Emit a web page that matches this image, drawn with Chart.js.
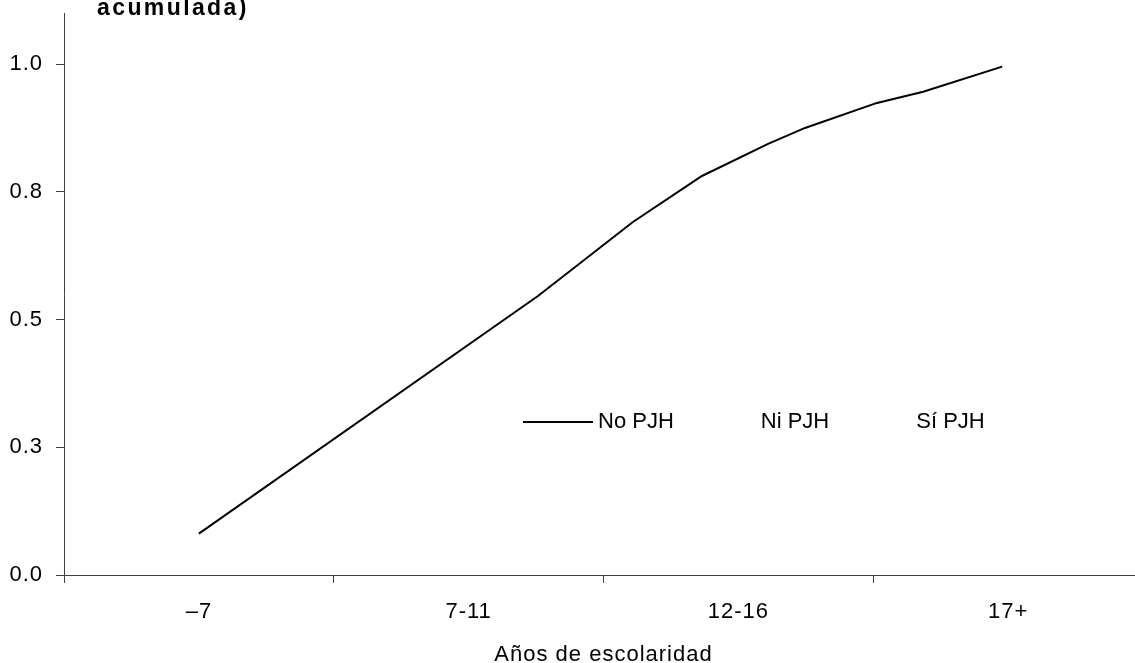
<!DOCTYPE html>
<html>
<head>
<meta charset="utf-8">
<script src="https://cdn.jsdelivr.net/npm/chart.js@4/dist/chart.umd.min.js"></script>
<style>
  html, body { margin: 0; padding: 0; background: #fff; overflow: hidden; }
  canvas { display: block; }
</style>
</head>
<body>
<canvas id="chart" width="1143" height="663"></canvas>
<script>
// categorías del eje x y valores
const categories = ['–7', '7-11', '12-16', '17+'];
const yTicks = [0, 0.25, 0.5, 0.75, 1.0];
const seriesNames = ['No PJH', 'Ni PJH', 'Sí PJH'];
// posición x en unidades de categoría (0 = "–7"), proporción acumulada
const noPjhX = [0, 1.257, 1.609, 1.865, 2.11, 2.247, 2.514, 2.685, 2.978];
const noPjhY = [0.081, 0.546, 0.691, 0.781, 0.844, 0.875, 0.924, 0.946, 0.995];
const niPjhY = [];
const siPjhY = [];
const axisTitle = 'Años de escolaridad';
const chartTitle = 'acumulada)';

const FONT = '"Liberation Sans", Arial, sans-serif';
const AXIS = '#404040';

// leyenda y título dibujados dentro del área del gráfico
const overlayPlugin = {
    id: 'overlay',
    beforeDraw(chart) {
        chart.ctx.letterSpacing = '1px';
    },
    afterDraw(chart) {
        const ctx = chart.ctx;
        const area = chart.chartArea;
        ctx.save();
        ctx.fillStyle = '#000';
        ctx.font = 'bold 23px ' + FONT;
        ctx.textBaseline = 'alphabetic';
        ctx.letterSpacing = '2.4px';
        ctx.fillText(chartTitle, 97, 15);
        ctx.letterSpacing = '0px';

        ctx.font = '22px ' + FONT;
        ctx.textBaseline = 'middle';
        let x = area.left + 459;
        const y = area.top + 409;
        chart.data.datasets.forEach(ds => {
            ctx.strokeStyle = ds.borderColor;
            ctx.lineWidth = ds.borderWidth;
            ctx.beginPath();
            ctx.moveTo(x, y);
            ctx.lineTo(x + 70, y);
            ctx.stroke();
            x += 75;
            ctx.fillText(ds.label, x, y);
            x += ctx.measureText(ds.label).width + 12;
        });
        ctx.restore();
    }
};

const ctx = document.getElementById('chart').getContext('2d');
new Chart(ctx, {
    type: 'line',
    data: {
        datasets: [
            { label: seriesNames[0], data: noPjhX.map((v, i) => ({ x: v, y: noPjhY[i] })), borderColor: '#000', borderWidth: 2, pointRadius: 0, tension: 0 },
            { label: seriesNames[1], data: niPjhY, borderColor: 'transparent', borderWidth: 2, pointRadius: 0 },
            { label: seriesNames[2], data: siPjhY, borderColor: 'transparent', borderWidth: 2, pointRadius: 0 }
        ]
    },
    options: {
        responsive: false,
        animation: false,
        devicePixelRatio: 1,
        layout: { padding: { top: 13, right: 0, bottom: 0, left: 0 } },
        plugins: { legend: { display: false }, tooltip: { enabled: false } },
        scales: {
            x: {
                type: 'linear',
                min: -0.5,
                max: 3.5,
                afterBuildTicks: s => { s.ticks = [-0.5, 0, 0.5, 1, 1.5, 2, 2.5, 3, 3.5].map(v => ({ value: v })); },
                afterFit: s => { s.height = 88; s.paddingLeft = 0; s.paddingRight = 0; },
                border: { color: AXIS, width: 1 },
                grid: {
                    drawOnChartArea: false,
                    tickLength: 8,
                    tickColor: c => Number.isInteger(c.tick.value) ? 'transparent' : AXIS
                },
                ticks: {
                    autoSkip: false,
                    maxRotation: 0,
                    padding: 16,
                    color: '#000',
                    font: { family: FONT, size: 22 },
                    callback: v => Number.isInteger(v) ? categories[v] : ''
                },
                title: {
                    display: true,
                    text: axisTitle,
                    color: '#000',
                    font: { family: FONT, size: 22 },
                    padding: { top: 0, bottom: -5 }
                }
            },
            y: {
                min: 0,
                max: 1.1,
                afterBuildTicks: s => { s.ticks = yTicks.map(v => ({ value: v })); },
                afterFit: s => { s.width = 64; s.paddingTop = 0; s.paddingBottom = 0; },
                border: { color: AXIS, width: 1 },
                grid: { drawOnChartArea: false, tickLength: 8, tickColor: AXIS },
                ticks: {
                    padding: 13,
                    color: '#000',
                    font: { family: FONT, size: 22 },
                    callback: v => v.toFixed(1)
                }
            }
        }
    },
    plugins: [overlayPlugin]
});
</script>
</body>
</html>
